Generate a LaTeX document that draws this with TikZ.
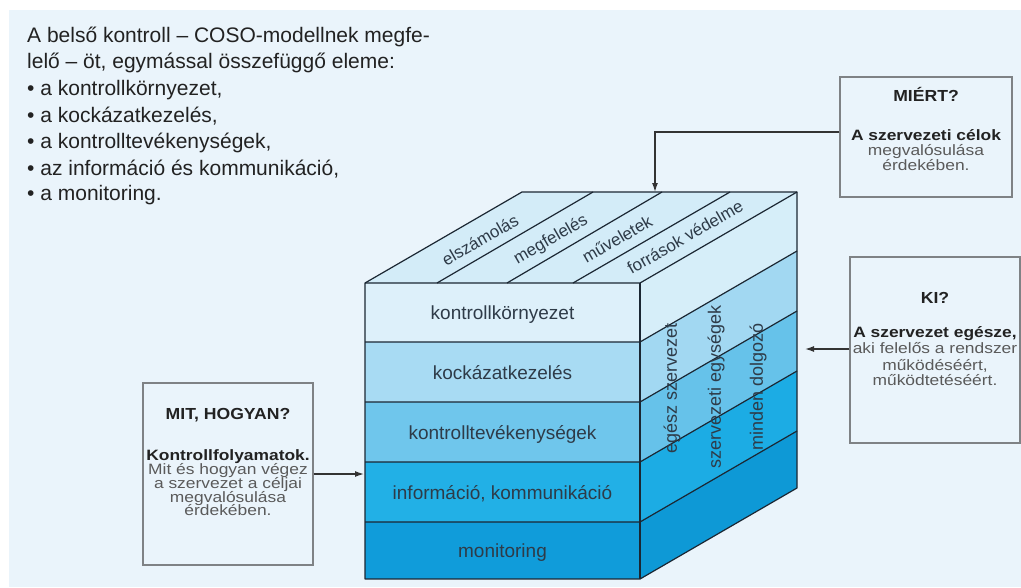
\documentclass[tikz,border=0pt]{standalone}
\usepackage{fontspec}
\setmainfont{Liberation Sans}
\newfontfamily\boxfont{Liberation Sans}[FakeStretch=1.1]
\newfontfamily\bodyfont{Liberation Sans}[FakeStretch=1.16]
\usetikzlibrary{arrows.meta}
\definecolor{bg}{HTML}{EAF4FB}
\definecolor{topc}{HTML}{D3ECF8}
\definecolor{c1}{HTML}{DDF0FA}
\definecolor{c2}{HTML}{A8DBF3}
\definecolor{c3}{HTML}{6FC6EC}
\definecolor{c4}{HTML}{22B0E6}
\definecolor{c5}{HTML}{109CDA}
\definecolor{s1}{HTML}{D6EEF9}
\definecolor{s2}{HTML}{A2D8F2}
\definecolor{s3}{HTML}{66C2EA}
\definecolor{s4}{HTML}{1CACE4}
\definecolor{s5}{HTML}{0E99D6}
\definecolor{cubeline}{HTML}{1B2733}
\definecolor{txtc}{HTML}{2E3B48}
\definecolor{headc}{HTML}{222222}
\definecolor{greyc}{HTML}{5A5A5A}
\definecolor{boxline}{HTML}{7F8285}
\definecolor{arrc}{HTML}{333333}
\tikzset{
  edge/.style={draw=cubeline, line width=1.2pt, line join=round},
  bandtxt/.style={font=\fontsize{19}{22}\selectfont, text=txtc, inner sep=0, anchor=base},
  toptxt/.style={font=\fontsize{17}{20}\selectfont, text=txtc, rotate=30, inner sep=0},
  sidetxt/.style={font=\fontsize{18}{20}\selectfont, text=txtc, rotate=90, inner sep=0},
  infobox/.style={draw=boxline, line width=1.4pt, fill=bg, inner sep=0},
  arr/.style={draw=arrc, line width=1.3pt, -{Latex[length=9pt,width=6pt]}},
  headt/.style={font=\boxfont\bfseries\fontsize{16}{16}\selectfont, text=headc, anchor=base, inner sep=0},
  boldt/.style={font=\bodyfont\bfseries\fontsize{15}{15}\selectfont, text=headc, anchor=base, inner sep=0},
  plaint/.style={font=\bodyfont\fontsize{15}{15}\selectfont, text=greyc, anchor=base, inner sep=0},
  titlet/.style={font=\fontsize{21}{24}\selectfont, text=headc, anchor=base west, inner sep=0},
}
\begin{document}
\begin{tikzpicture}[x=1pt,y=-1pt]
\useasboundingbox (0,0) rectangle (1021,587);
\fill[white] (0,0) rectangle (1021,587);
\fill[bg] (9,10) rectangle (1021,587);

% title text
\node[titlet] (t1) at (27,42) {A belső kontroll – COSO-modellnek megfe-};
\node[titlet] (t2) at (27,68) {lelő – öt, egymással összefüggő eleme:};
\node[titlet] (t3) at (27,95) {\textbullet\ a kontrollkörnyezet,};
\node[titlet] (t4) at (27,122) {\textbullet\ a kockázatkezelés,};
\node[titlet] (t5) at (27,148) {\textbullet\ a kontrolltevékenységek,};
\node[titlet] (t6) at (27,175) {\textbullet\ az információ és kommunikáció,};
\node[titlet] (t7) at (27,200) {\textbullet\ a monitoring.};

% cube fills
\fill[topc] (365,283) -- (522,192) -- (797,192) -- (640,283) -- cycle;
\fill[c1] (365,283) rectangle (640,342);
\fill[c2] (365,342) rectangle (640,402);
\fill[c3] (365,402) rectangle (640,462);
\fill[c4] (365,462) rectangle (640,522);
\fill[c5] (365,522) rectangle (640,579);
\fill[s1] (640,283) -- (797,192) -- (797,251) -- (640,342) -- cycle;
\fill[s2] (640,342) -- (797,251) -- (797,311) -- (640,402) -- cycle;
\fill[s3] (640,402) -- (797,311) -- (797,371) -- (640,462) -- cycle;
\fill[s4] (640,462) -- (797,371) -- (797,431) -- (640,522) -- cycle;
\fill[s5] (640,522) -- (797,431) -- (797,488) -- (640,579) -- cycle;

% cube lines
\draw[edge] (365,283) -- (522,192) -- (797,192) -- (797,488) -- (640,579) -- (365,579) -- cycle;
\draw[edge] (365,283) -- (640,283) -- (797,192);
\draw[edge] (640,283) -- (640,579);
\foreach \y in {342,402,462,522}{
  \draw[edge] (365,\y) -- (640,\y) -- (797,\y-91);
}
\draw[edge] (437,283) -- (593,192);
\draw[edge] (507,283) -- (662,192);
\draw[edge] (573,283) -- (730,192);

% top labels
\node[toptxt] (a1) at (480,240) {elszámolás};
\node[toptxt] (a2) at (551,240) {megfelelés};
\node[toptxt] (a3) at (617,239) {műveletek};
\node[toptxt] (a4) at (685,237) {források védelme};

% band labels
\node[bandtxt] (b1) at (502.5,319.5) {kontrollkörnyezet};
\node[bandtxt] (b2) at (502.5,379) {kockázatkezelés};
\node[bandtxt] (b3) at (502.5,439) {kontrolltevékenységek};
\node[bandtxt] (b4) at (502.5,499) {információ, kommunikáció};
\node[bandtxt] (b5) at (502.5,557.5) {monitoring};

% side labels
\node[sidetxt] (d1) at (672,388) {egész szervezet};
\node[sidetxt] (d2) at (716,387) {szervezeti egységek};
\node[sidetxt] (d3) at (758,387) {minden dolgozó};

% boxes
\node[infobox, minimum width=172, minimum height=120] (miert) at (926,137) {};
\node[headt] (m0) at (926,101) {MIÉRT?};
\node[boldt] (m1) at (926,140) {A szervezeti célok};
\node[plaint] (m2) at (926,155) {megvalósulása};
\node[plaint] (m3) at (926,170) {érdekében.};

\node[infobox, minimum width=170, minimum height=186] (ki) at (935,350) {};
\node[headt] (k0) at (935,303) {KI?};
\node[boldt] (k1) at (935,337) {A szervezet egésze,};
\node[plaint] (k2) at (935,353) {aki felelős a rendszer};
\node[plaint] (k3) at (935,370) {működéséért,};
\node[plaint] (k4) at (935,385) {működtetéséért.};

\node[infobox, minimum width=170, minimum height=182] (mit) at (228,474) {};
\node[headt] (h0) at (228,419) {MIT, HOGYAN?};
\node[boldt] (h1) at (228,460) {Kontrollfolyamatok.};
\node[plaint] (h2) at (228,474) {Mit és hogyan végez};
\node[plaint] (h3) at (228,488) {a szervezet a céljai};
\node[plaint] (h4) at (228,502) {megvalósulása};
\node[plaint] (h5) at (228,515) {érdekében.};

% arrows
\coordinate (topin) at (655,192);
\coordinate (sidein) at (805,349);
\coordinate (frontin) at (364,474);
\draw[arr] ([yshift=5pt]miert.west) -| (topin);
\draw[arr] (ki.west |- sidein) -- (sidein);
\draw[arr] (mit.east) -- (frontin);
\end{tikzpicture}
\end{document}
